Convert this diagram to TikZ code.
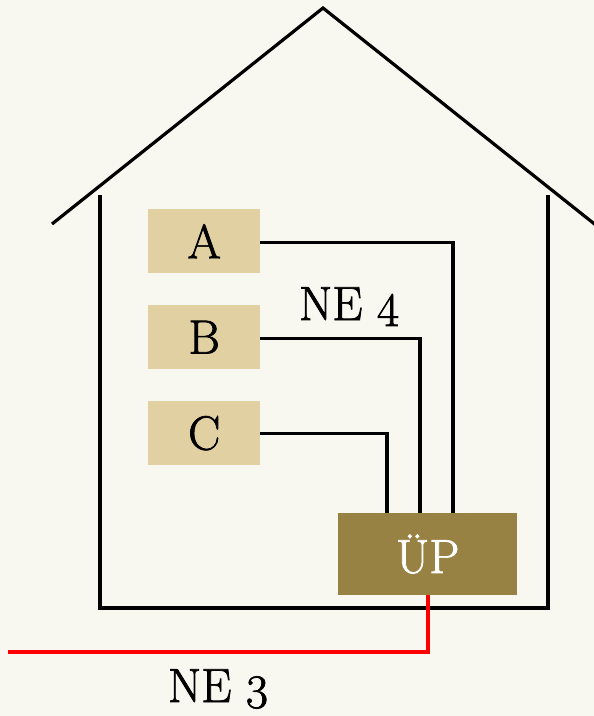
\documentclass[tikz,border=0pt]{standalone}
\usepackage{xcolor}
\usepackage{fontspec}
\newfontfamily\labelfont{Latin Modern Roman}[FakeBold=1.5]
\definecolor{paper}{HTML}{F9F8F0}
\definecolor{sand}{HTML}{E0D0A2}
\definecolor{bronze}{HTML}{978143}
% figures set low, in the manner of hanging numerals
\newcommand{\lowfig}[1]{\raisebox{-6pt}{#1}}
\begin{document}
\begin{tikzpicture}[x=1pt,y=-1pt,
  wire/.style={line width=3.2pt},
  room/.style={fill=sand,minimum width=112pt,minimum height=64pt,inner sep=0pt,anchor=north west},
  hub/.style={fill=bronze,text=white,minimum width=179pt,minimum height=82pt,inner sep=0pt,anchor=north west},
  lbl/.style={inner sep=0pt},
  font=\labelfont\fontsize{48}{54}\selectfont]
  % canvas
  \fill[paper] (0,0) rectangle (594,716);
  \useasboundingbox (0,0) rectangle (594,716);
  % roof and walls
  \draw[wire] (52,224) -- (323,8) -- (597,226);
  \draw[wire] (100,195) -- (100,608) -- (548,608) -- (548,195);
  % rooms and transfer point
  \node[room] (a) at (148,209) {A};
  \node[room] (b) at (148,305) {B};
  \node[room] (c) at (148,401) {C};
  \node[hub] (up) at (338,513) {ÜP};
  % in-house wiring
  \coordinate (xa) at (453,0);
  \coordinate (xb) at (420,0);
  \coordinate (xc) at (387,0);
  \draw[wire] ([yshift=-1pt]a.east) -| (up.north -| xa);
  \draw[wire] ([yshift=-1pt]b.east) -| (up.north -| xb);
  \draw[wire] (c.east) -| (up.north -| xc);
  % feed from outside
  \coordinate (feed) at (8,652);
  \draw[red,line width=4pt] (up.south) |- (feed);
  % labels
  \node[lbl,anchor=base] (ne4) at (349,320) {NE \lowfig{4}};
  \node[lbl,anchor=base] (ne3) at (218,702) {NE \lowfig{3}};
\end{tikzpicture}
\end{document}
